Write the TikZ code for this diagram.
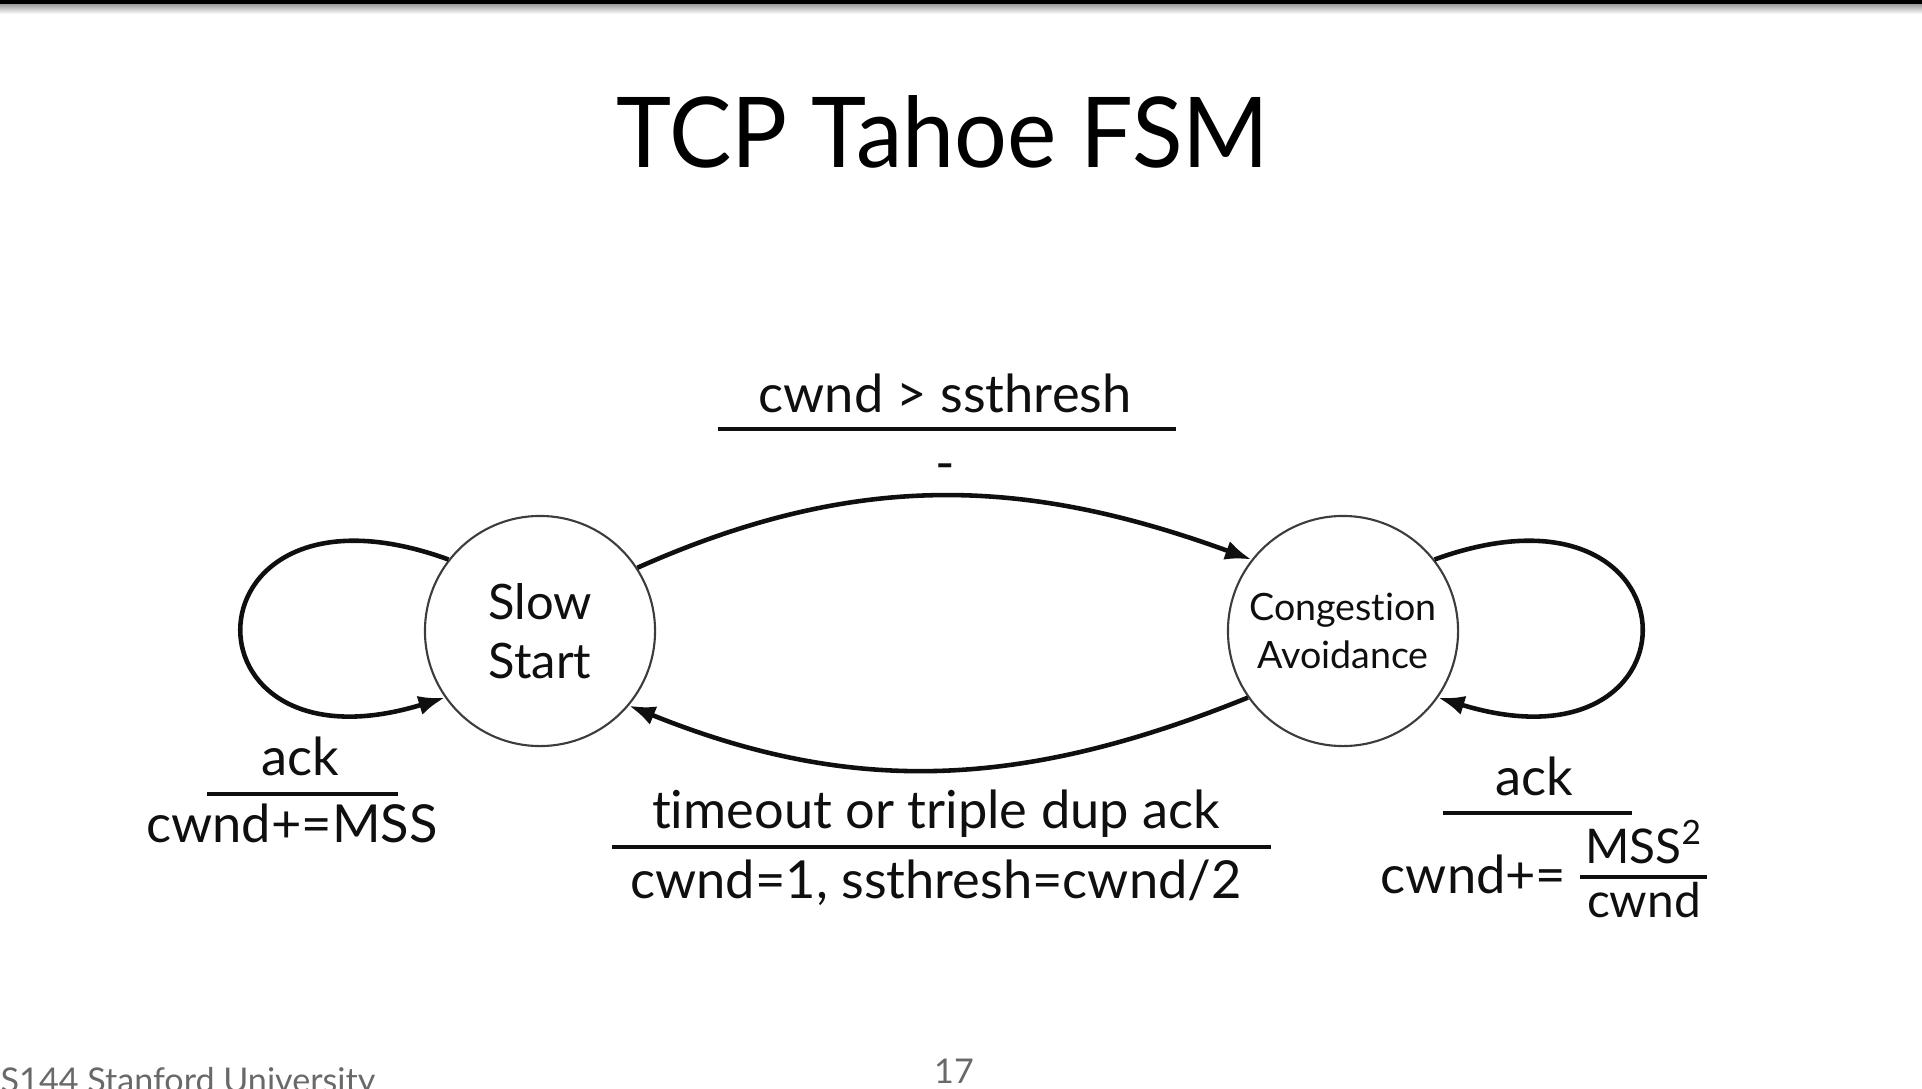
\documentclass[tikz,border=0pt]{standalone}
\usepackage{fontspec}
\setmainfont{Lato}[Ligatures=NoCommon]
\newfontfamily\titlefont{Lato}[Ligatures=NoCommon, FakeStretch=0.955]
\usepackage{tikz}
\usetikzlibrary{arrows.meta}
\definecolor{mydark}{RGB}{15,15,15}
\definecolor{mygray}{RGB}{60,60,60}
\definecolor{myfoot}{RGB}{105,105,105}
\tikzset{
  fsmstate/.style={circle, draw=mygray, line width=0.6pt,
    minimum size=2.3cm, inner sep=0pt, align=center, text=mydark},
  lbl/.style={inner sep=0pt, anchor=base, text=mydark,
    font=\fontsize{14.9}{17}\selectfont},
  fraclbl/.style={lbl, font=\fontsize{13.6}{15}\selectfont},
  foot/.style={inner sep=0pt, anchor=base, text=myfoot,
    font=\fontsize{9.7}{12}\selectfont},
  bar/.style={line width=1.15pt, color=mydark},
  arrow/.style={-{Latex[length=7.5pt,width=5.6pt]}, line width=1.3pt, color=mydark}
}

\begin{document}
\begin{tikzpicture}[x=0.01cm, y=0.01cm]
  \useasboundingbox (0,0) rectangle (1922,-1088);
  % top rule
  \fill[black] (0,0) rectangle (1922,-5);
  \shade[top color=black!35, bottom color=white] (0,-5) rectangle (1922,-14);

  % Title
  \node[inner sep=0pt, anchor=base, font=\titlefont\fontsize{27.8}{32}\selectfont] (title) at (943,-168) {TCP Tahoe FSM};

  % States
  \node[fsmstate, font=\fontsize{13.9}{16.8}\selectfont] (ss) at (540,-631) {Slow\\Start};
  \node[fsmstate, font=\fontsize{10.7}{13.7}\selectfont] (ca) at (1343,-631) {Congestion\\Avoidance};

  % Transitions
  \draw[arrow] (ss.33) to[out=24, in=160] (ca.142);
  \draw[arrow] (ca.215) to[out=202, in=-22] (ss.-40);
  \draw[arrow] (ss.142) .. controls +(160:286) and +(197:286) .. (ss.215);
  \draw[arrow] (ca.38) .. controls +(20:286) and +(-17:286) .. (ca.-35);

  % Slow Start loop label
  \node[lbl] (ssev) at (300,-775) {ack};
  \draw[bar] (207,-794) -- (398,-794);
  \node[lbl] (ssact) at (292,-842) {cwnd+=MSS};

  % Slow Start -> Congestion Avoidance label
  \node[lbl] (upev) at (945,-412) {cwnd > ssthresh};
  \draw[bar] (718,-429) -- (1176,-429);
  \node[lbl] (upact) at (945,-481) {-};

  % Congestion Avoidance -> Slow Start label
  \node[lbl] (downev) at (936,-828) {timeout or triple dup ack};
  \draw[bar] (612,-847) -- (1271,-847);
  \node[lbl] (downact) at (936,-898) {cwnd=1, ssthresh=cwnd/2};

  % Congestion Avoidance loop label
  \node[lbl] (caev) at (1534,-795) {ack};
  \draw[bar] (1443,-813) -- (1632,-813);
  \node[lbl, anchor=base east] (caact) at (1567,-893) {cwnd+=};
  \node[fraclbl] (canum) at (1644,-863) {MSS\textsuperscript{2}};
  \draw[bar] (1580,-877) -- (1707,-877);
  \node[fraclbl] (caden) at (1644,-917) {cwnd};

  % Footer
  \node[foot, anchor=base west] (course) at (0,-1092) {S144 Stanford University};
  \node[foot] (page) at (954,-1083) {17};
\end{tikzpicture}
\end{document}
